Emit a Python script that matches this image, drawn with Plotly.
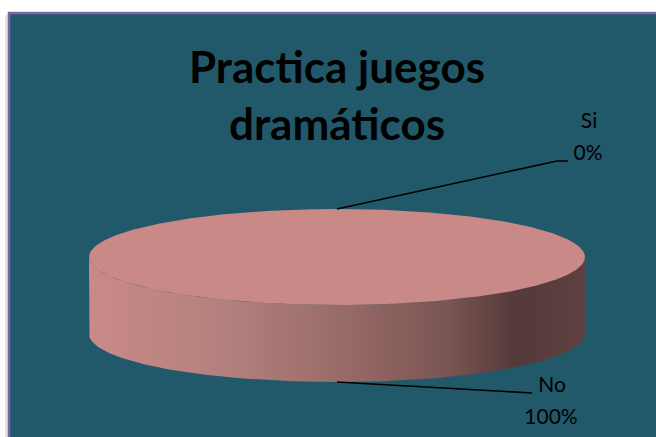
import numpy as np
import plotly.graph_objects as go

# Survey answers
categories = ["Si", "No"]
values = [0, 100]
title_text = "Practica juegos<br>dramáticos"

# Pie layout (pixel-like axis units, y grows downward)
CX, CY, RX, RY, DEPTH = 337, 257, 248, 48, 77
TOP_COLOR = "#C98987"
BG = "#22596A"
SIDE_SCALE = [[0.0, "#C98A88"], [0.28, "#B3807D"], [0.5, "#996C6A"],
              [0.72, "#7A5553"], [0.86, "#553A3A"], [1.0, "#5E4040"]]

# label placement: (elbow, end, name pos, pct pos)
label_style = {
    "Si": dict(elbow=(557, 161), end=(568, 161), name=(589, 123), pct=(588, 155)),
    "No": dict(elbow=(523, 393), end=(532, 393), name=(552, 387), pct=(551, 419)),
}


def ellipse(theta_deg, dy=0.0):
    t = np.radians(theta_deg)
    return CX + RX * np.sin(t), CY - RY * np.cos(t) + dy


fig = go.Figure()

total = float(sum(values))
start = 0.0
slices = []
for cat, v in zip(categories, values):
    sweep = 360.0 * v / total
    slices.append((cat, v, start, start + sweep))
    start += sweep

# front walls (visible between 90 and 270 degrees)
for cat, v, a0, a1 in slices:
    lo, hi = max(a0, 90.0), min(a1, 270.0)
    if v <= 0 or hi <= lo:
        continue
    th = np.linspace(lo, hi, 200)
    tx, ty = ellipse(th)
    bx, by = ellipse(th[::-1], DEPTH)
    fig.add_trace(go.Scatter(
        x=np.concatenate([tx, bx, tx[:1]]), y=np.concatenate([ty, by, ty[:1]]),
        mode="lines", line=dict(width=0), fill="toself",
        fillgradient=dict(type="horizontal", colorscale=SIDE_SCALE,
                          start=CX - RX, stop=CX + RX),
        hoverinfo="skip", showlegend=False))

# top faces
for cat, v, a0, a1 in slices:
    if v <= 0:
        continue
    th = np.linspace(a0, a1, 400)
    x, y = ellipse(th)
    if a1 - a0 < 360:
        x = np.concatenate([[CX], x, [CX]])
        y = np.concatenate([[CY], y, [CY]])
    fig.add_trace(go.Scatter(
        x=x, y=y, mode="lines", line=dict(width=0), fill="toself",
        fillcolor=TOP_COLOR, hoverinfo="skip", showlegend=False))

# leader lines and labels
for cat, v, a0, a1 in slices:
    mid = (a0 + a1) / 2.0
    front = 90.0 < (mid % 360) < 270.0
    ax, ay = ellipse(mid, DEPTH if front else 0.0)
    st = label_style[cat]
    fig.add_trace(go.Scatter(
        x=[ax, st["elbow"][0], st["end"][0]], y=[ay, st["elbow"][1], st["end"][1]],
        mode="lines", line=dict(color="black", width=1.6),
        hoverinfo="skip", showlegend=False))
    pct = f"{round(100 * v / total)}%"
    fig.add_trace(go.Scatter(
        x=[st["name"][0], st["pct"][0]], y=[st["name"][1], st["pct"][1]],
        mode="text", text=[cat, pct],
        textfont=dict(family="Lato", size=21, color="black"),
        textposition="middle center", hoverinfo="skip", showlegend=False))

fig.update_layout(
    width=656, height=437,
    margin=dict(l=0, r=0, t=0, b=0),
    paper_bgcolor="white", plot_bgcolor="white",
    xaxis=dict(range=[0, 656], visible=False, fixedrange=True),
    yaxis=dict(range=[437, 0], visible=False, fixedrange=True),
    title=dict(text=title_text, x=337 / 656, xanchor="center",
               y=1 - 83 / 437, yanchor="middle",
               font=dict(family="Lato", size=44, color="black", weight="bold")),
    shapes=[
        dict(type="rect", xref="x", yref="y", x0=5, y0=15, x1=700, y1=480,
             fillcolor="#E4E4E4", line=dict(width=0), layer="below"),
        dict(type="rect", xref="x", yref="y", x0=9, y0=13, x1=700, y1=480,
             fillcolor=BG, line=dict(color="#8064A2", width=2.5), layer="below"),
    ],
)

fig.write_html("out.html")
